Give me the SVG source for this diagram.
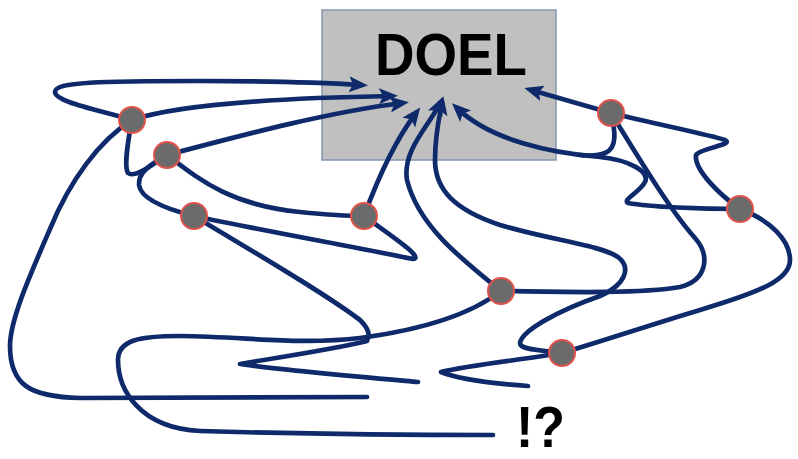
<svg xmlns="http://www.w3.org/2000/svg" width="798" height="459" viewBox="0 0 798 459">
<defs>
<style>
.c{fill:none;stroke:#0f2a6b;stroke-width:4.7;stroke-linecap:round;stroke-linejoin:round}
.a{marker-end:url(#ah)}
.n{fill:#6b6b6b;stroke:#e0524a;stroke-width:2}
.t{font-family:"Liberation Sans",Arial,sans-serif;font-weight:bold;fill:#000}
</style>
<marker id="ah" markerUnits="userSpaceOnUse" markerWidth="22" markerHeight="18" refX="12" refY="8" orient="auto" viewBox="0 0 22 18">
<path d="M0,0 L19,8 L0,16 L4,8 z" fill="#0f2a6b"/>
</marker>
</defs>
<rect width="798" height="459" fill="#fff"/>
<g id="doel">
<rect x="322" y="10" width="234" height="150" fill="#c0c0c0" stroke="#8497b0" stroke-width="1.5"/>
<text class="t" x="451" y="75" font-size="59" text-anchor="middle" textLength="152" lengthAdjust="spacingAndGlyphs">DOEL</text>
</g>
<g id="connectors">
<path class="c a" d="M132,120 C100,110 55,102 55,92 C55,82 100,81 200,81 C280,81 330,83 361,85"/>
<path class="c a" d="M132,120 C180,104 280,98 391,96"/>
<path class="c a" d="M167,155 C250,133 330,112 402,103"/>
<path class="c a" d="M364,216 C378,178 394,142 416,113"/>
<path class="c a" d="M501,291 C460,258 418,225 407,180 C402,150 430,125 440,103"/>
<path class="c a" d="M562,353 C540,350 520,350 520,343 C522,330 560,310 600,296 C625,285 632,268 618,257 C600,245 550,240 500,225 C455,210 435,190 435,160 C435,135 439,118 442,103"/>
<path class="c a" d="M740,209 C700,209 650,207 628,203 C622,200 640,192 645,182 C650,172 630,160 600,157 C550,153 490,140 457,108"/>
<path class="c" d="M611,113 C615,130 618,148 605,153 C598,156 590,156 580,155"/>
<path class="c a" d="M611,113 L531,90"/>
<path class="c" d="M611,113 C660,125 710,135 725,140 C735,145 700,148 696,155 C694,170 720,195 740,209"/>
<path class="c" d="M611,113 C640,160 670,210 695,238 C710,255 708,280 680,287 C640,294 560,292 501,291"/>
<path class="c" d="M740,209 C770,220 790,240 790,260 C790,280 760,292 700,310 C650,325 600,342 562,353"/>
<path class="c" d="M562,353 C520,360 470,365 441,372 C460,380 500,384 528,386"/>
<path class="c" d="M501,291 C470,315 420,330 360,338 C300,345 250,337 180,336 C140,336 118,340 118,360 C118,390 140,428 200,431 C300,434 420,435 493,435"/>
<path class="c" d="M367,341 C330,350 280,357 240,364 C280,370 350,376 418,382"/>
<path class="c" d="M132,120 C100,140 70,180 50,229 C30,275 10,320 10,346 C10,385 30,397 80,398 L367,397"/>
<path class="c" d="M132,120 C128,140 124,168 128,173 C134,178 148,168 167,155"/>
<path class="c" d="M167,155 C150,165 138,172 139,185 C141,200 170,210 194,216"/>
<path class="c" d="M167,155 C200,180 230,205 300,212 C330,215 350,216 364,216"/>
<path class="c" d="M194,216 C260,230 360,248 413,259 C425,258 390,235 364,216"/>
<path class="c" d="M194,216 C250,250 320,290 360,320 C370,330 370,336 367,340"/>
</g>
<g id="node1"><circle class="n" cx="132" cy="120" r="13"/></g>
<g id="node2"><circle class="n" cx="167" cy="155" r="13"/></g>
<g id="node3"><circle class="n" cx="194" cy="216" r="13"/></g>
<g id="node4"><circle class="n" cx="364" cy="216" r="13"/></g>
<g id="node5"><circle class="n" cx="501" cy="291" r="13"/></g>
<g id="node6"><circle class="n" cx="562" cy="353" r="13"/></g>
<g id="node7"><circle class="n" cx="611" cy="113" r="13"/></g>
<g id="node8"><circle class="n" cx="740" cy="209" r="13"/></g>
<g id="label"><text class="t" x="516" y="447" font-size="57" textLength="49" lengthAdjust="spacingAndGlyphs">!?</text></g>
</svg>
